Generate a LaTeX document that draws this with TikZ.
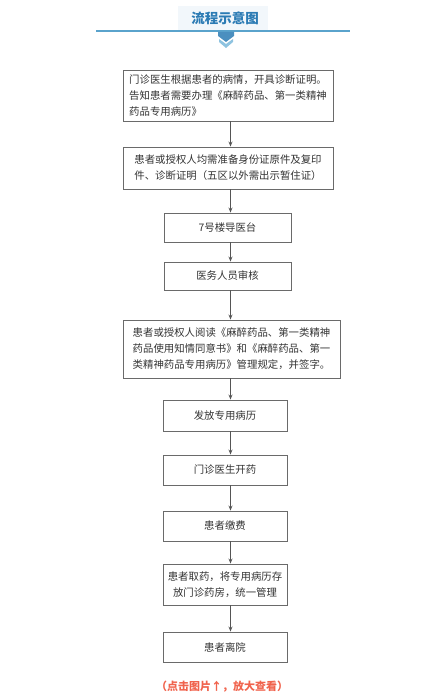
\documentclass[tikz,border=0pt]{standalone}
\usepackage{fontspec}
\newfontfamily\cjk{Noto Sans CJK SC}
\usetikzlibrary{arrows.meta}
\definecolor{tblue}{HTML}{2B7BB4}
\definecolor{lblue}{HTML}{5AA3CC}
\definecolor{pblue}{HTML}{8EC3E0}
\definecolor{tbg}{HTML}{F2F7FB}
\definecolor{bord}{HTML}{6A6A6A}
\definecolor{txt}{HTML}{333333}
\definecolor{foot}{HTML}{F0634D}
\tikzset{
  box/.style={draw=bord, line width=0.9pt, inner sep=0pt, text=txt,
    font=\cjk\fontsize{10.4pt}{16pt}\selectfont},
  arr/.style={draw=bord!80!black, line width=0.9pt, -{Stealth[length=5pt,width=4pt]}}
}
\begin{document}
\begin{tikzpicture}[x=1pt,y=-1pt]
\useasboundingbox (0,0) rectangle (439,700);
% title
\fill[tbg] (178,6) rectangle (268,31);
\node[font=\cjk\bfseries\fontsize{13.5pt}{15pt}\selectfont, text=tblue] (title) at (225,18) {流程示意图};
\draw[lblue, line width=2pt] (96,31) -- (350,31);
\fill[tblue!85] (218,32) -- (234,32) -- (234,36) -- (226,42) -- (218,36) -- cycle;
\fill[pblue] (219,39) -- (226,44) -- (233,39) -- (233,42) -- (226,48) -- (219,42) -- cycle;
% boxes
\node[box, minimum width=210pt, minimum height=51pt, align=left] (b1) at (228,95.5)
  {门诊医生根据患者的病情，开具诊断证明。\\告知患者需要办理《麻醉药品、第一类精神\\药品专用病历》};
\node[box, minimum width=210pt, minimum height=42pt, align=left] (b2) at (228,168)
  {患者或授权人均需准备身份证原件及复印\\件、诊断证明（五区以外需出示暂住证）};
\node[box, minimum width=127pt, minimum height=29pt] (b3) at (227.5,227.5) {7号楼导医台};
\node[box, minimum width=127pt, minimum height=28pt] (b4) at (227.5,276) {医务人员审核};
\node[box, minimum width=217pt, minimum height=58pt, align=left] (b5) at (231.5,349)
  {患者或授权人阅读《麻醉药品、第一类精神\\药品使用知情同意书》和《麻醉药品、第一\\类精神药品专用病历》管理规定，并签字。};
\node[box, minimum width=124pt, minimum height=31pt] (b6) at (225,415.5) {发放专用病历};
\node[box, minimum width=124pt, minimum height=30pt] (b7) at (225,470) {门诊医生开药};
\node[box, minimum width=124pt, minimum height=30pt] (b8) at (225,526) {患者缴费};
\node[box, minimum width=124pt, minimum height=41pt, align=center] (b9) at (225,584.5)
  {患者取药，将专用病历存\\放门诊药房，统一管理};
\node[box, minimum width=124pt, minimum height=30pt] (b10) at (225,647) {患者离院};
% arrows
\coordinate (ax) at (230.5,0);
\draw[arr] (b1.south -| ax) -- (b2.north -| ax);
\draw[arr] (b2.south -| ax) -- (b3.north -| ax);
\draw[arr] (b3.south -| ax) -- (b4.north -| ax);
\draw[arr] (b4.south -| ax) -- (b5.north -| ax);
\draw[arr] (b5.south -| ax) -- (b6.north -| ax);
\draw[arr] (b6.south -| ax) -- (b7.north -| ax);
\draw[arr] (b7.south -| ax) -- (b8.north -| ax);
\draw[arr] (b8.south -| ax) -- (b9.north -| ax);
\draw[arr] (b9.south -| ax) -- (b10.north -| ax);
% footer
\node[font=\cjk\bfseries\fontsize{11pt}{13pt}\selectfont, text=foot] (foot) at (222,687) {（点击图片↑，放大查看）};
\end{tikzpicture}
\end{document}
